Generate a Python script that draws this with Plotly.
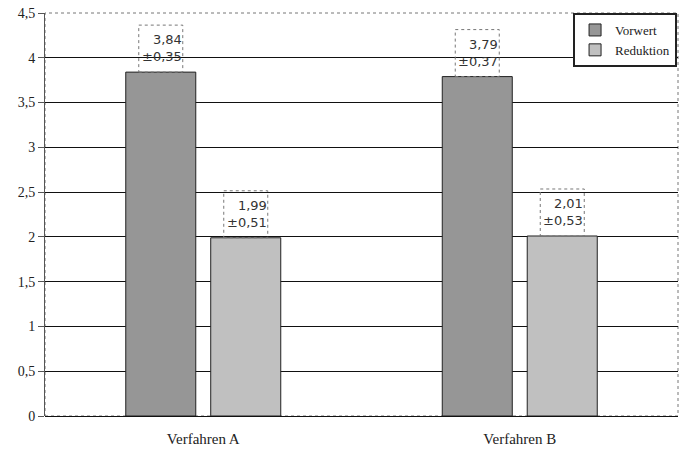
import plotly.graph_objects as go

categories = ["Verfahren A", "Verfahren B"]
vorwert = [3.84, 3.79]
vorwert_sd = [0.35, 0.37]
reduktion = [1.99, 2.01]
reduktion_sd = [0.51, 0.53]
y_ticks = [0, 0.5, 1, 1.5, 2, 2.5, 3, 3.5, 4, 4.5]

xpos = list(range(len(categories)))

fig = go.Figure()
fig.add_trace(go.Bar(name="Vorwert", x=xpos, y=vorwert,
                     marker=dict(color="#969696", line=dict(color="#222222", width=1))))
fig.add_trace(go.Bar(name="Reduktion", x=xpos, y=reduktion,
                     marker=dict(color="#c0c0c0", line=dict(color="#222222", width=1))))

def fmt(v):
    return f"{v:.2f}".replace(".", ",")

label_font = dict(family="DejaVu Sans", size=13, color="#333333")
for series, sds, shift in ((vorwert, vorwert_sd, -42.5), (reduktion, reduktion_sd, 42.5)):
    for xi, v, sd in zip(xpos, series, sds):
        fig.add_annotation(x=xi, y=v, xref="x", yref="y",
                           text=f"{fmt(v)}<br>±{fmt(sd)}", showarrow=False,
                           align="right", xanchor="right", yanchor="bottom",
                           xshift=shift + 23, yshift=6, font=label_font)
        fig.add_shape(type="rect", xref="x", yref="y",
                      xsizemode="pixel", ysizemode="pixel",
                      xanchor=xi, yanchor=v,
                      x0=shift - 22, x1=shift + 22, y0=0, y1=47,
                      line=dict(color="#777777", width=1, dash="dot"),
                      fillcolor="rgba(255,255,255,0)", layer="above")

# plot frame
fig.add_shape(type="rect", xref="paper", yref="paper", x0=0, x1=1, y0=0, y1=1,
              line=dict(color="#777777", width=1, dash="dot"), layer="below")

fig.update_layout(
    width=698, height=451,
    margin=dict(l=45, r=20, t=13, b=35, autoexpand=False),
    paper_bgcolor="white", plot_bgcolor="white",
    separators=", ",
    barmode="group", bargap=0.463, bargroupgap=0.176,
    font=dict(family="Liberation Serif", size=14, color="#222222"),
    legend=dict(x=0.9985, y=1.0, xanchor="right", yanchor="top",
                bgcolor="white", bordercolor="#222222", borderwidth=2,
                font=dict(family="Liberation Serif", size=13, color="#222222"),
                itemwidth=30, tracegroupgap=0),
    showlegend=True,
)
fig.update_xaxes(range=[-0.5, 1.5], tickvals=xpos, ticktext=categories,
                 showgrid=False, zeroline=False, showline=False, automargin=False,
                 ticks="", ticklabelstandoff=12,
                 tickfont=dict(family="Liberation Serif", size=15))
fig.update_yaxes(range=[0, 4.5], tickvals=y_ticks, tickformat=",.1~f", automargin=False,
                 showgrid=True, gridcolor="#111111", gridwidth=1,
                 zeroline=True, zerolinecolor="#111111", zerolinewidth=1,
                 showline=True, linecolor="#555555", linewidth=1,
                 ticks="outside", ticklen=6, tickcolor="#555555",
                 tickfont=dict(family="Liberation Serif", size=14))

fig.write_html("out.html", config={"displayModeBar": False},
               post_script="document.body.style.margin='0px';")
